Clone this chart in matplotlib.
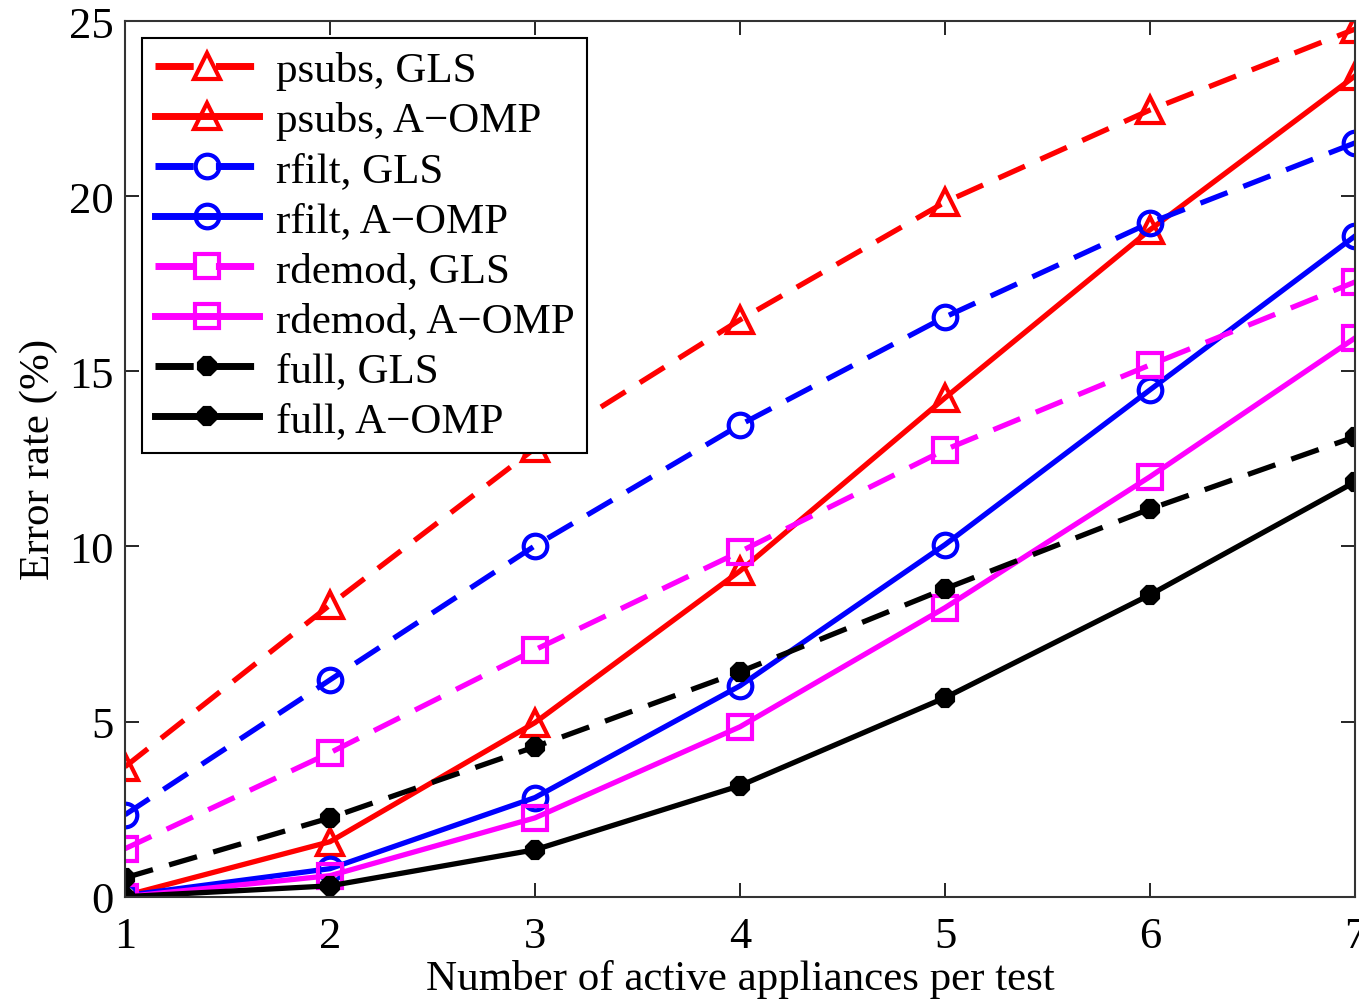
import matplotlib
matplotlib.use("Agg")
import matplotlib.pyplot as plt

appliances = [1, 2, 3, 4, 5, 6, 7]

psubs_gls = [3.71, 8.33, 12.8, 16.47, 19.83, 22.46, 24.77]
psubs_aomp = [0.03, 1.57, 4.97, 9.3, 14.24, 19.04, 23.43]
rfilt_gls = [2.34, 6.19, 10.02, 13.47, 16.55, 19.24, 21.52]
rfilt_aomp = [0.03, 0.8, 2.83, 6.02, 10.05, 14.47, 18.86]
rdemod_gls = [1.37, 4.11, 7.05, 9.85, 12.76, 15.18, 17.55]
rdemod_aomp = [0.0, 0.6, 2.25, 4.85, 8.25, 11.99, 15.95]
full_gls = [0.54, 2.25, 4.28, 6.42, 8.79, 11.07, 13.13]
full_aomp = [0.0, 0.31, 1.34, 3.17, 5.68, 8.62, 11.84]

series = [
    ("psubs, GLS", psubs_gls, "red", "^", "--"),
    ("psubs, A\u2212OMP", psubs_aomp, "red", "^", "-"),
    ("rfilt, GLS", rfilt_gls, "blue", "o", "--"),
    ("rfilt, A\u2212OMP", rfilt_aomp, "blue", "o", "-"),
    ("rdemod, GLS", rdemod_gls, "magenta", "s", "--"),
    ("rdemod, A\u2212OMP", rdemod_aomp, "magenta", "s", "-"),
    ("full, GLS", full_gls, "black", "8", "--"),
    ("full, A\u2212OMP", full_aomp, "black", "8", "-"),
]

plt.rcParams["font.family"] = ["Liberation Serif", "DejaVu Serif"]

fig = plt.figure(figsize=(13.59, 10.03), dpi=100)
ax = fig.add_axes([0.092, 0.105, 0.905, 0.873])

for etiqueta, valores, color, marca, estilo in series:
    relleno = color if marca == "8" else "none"
    if marca == "8":
        tam = 13
    elif marca == "^":
        tam = 19
    else:
        tam = 17
    linea, = ax.plot(appliances, valores, color=color, linestyle=estilo, linewidth=3.8,
                     marker=marca, markersize=tam, markerfacecolor=relleno,
                     markeredgecolor=color, markeredgewidth=3, label=etiqueta)
    if estilo == "--":
        linea.set_dashes((5.5, 3.2))

ax.set_xlim(1, 7)
ax.set_ylim(0, 25)
ax.set_xticks(appliances)
ax.set_yticks([0, 5, 10, 15, 20, 25])
ax.tick_params(direction="in", top=True, right=True, labelsize=32, length=10, width=1.2)
ax.tick_params(axis="x", pad=14)
ax.tick_params(axis="y", pad=8)
for lado in ax.spines.values():
    lado.set_linewidth(1.5)
    lado.set_color("#333333")

ax.set_xlabel("Number of active appliances per test", fontsize=31, labelpad=2)
ax.set_ylabel("Error rate (%)", fontsize=31, labelpad=8)

leyenda = ax.legend(loc="upper left", fontsize=31, handlelength=2.4, labelspacing=0.25,
                    borderpad=0.3, handletextpad=0.4, fancybox=False, framealpha=1,
                    borderaxespad=0.4)
leyenda.get_frame().set_edgecolor("black")
leyenda.get_frame().set_linewidth(1.5)
for linea in leyenda.get_lines():
    linea.set_linewidth(5)

fig.savefig("out.png", dpi=100)
